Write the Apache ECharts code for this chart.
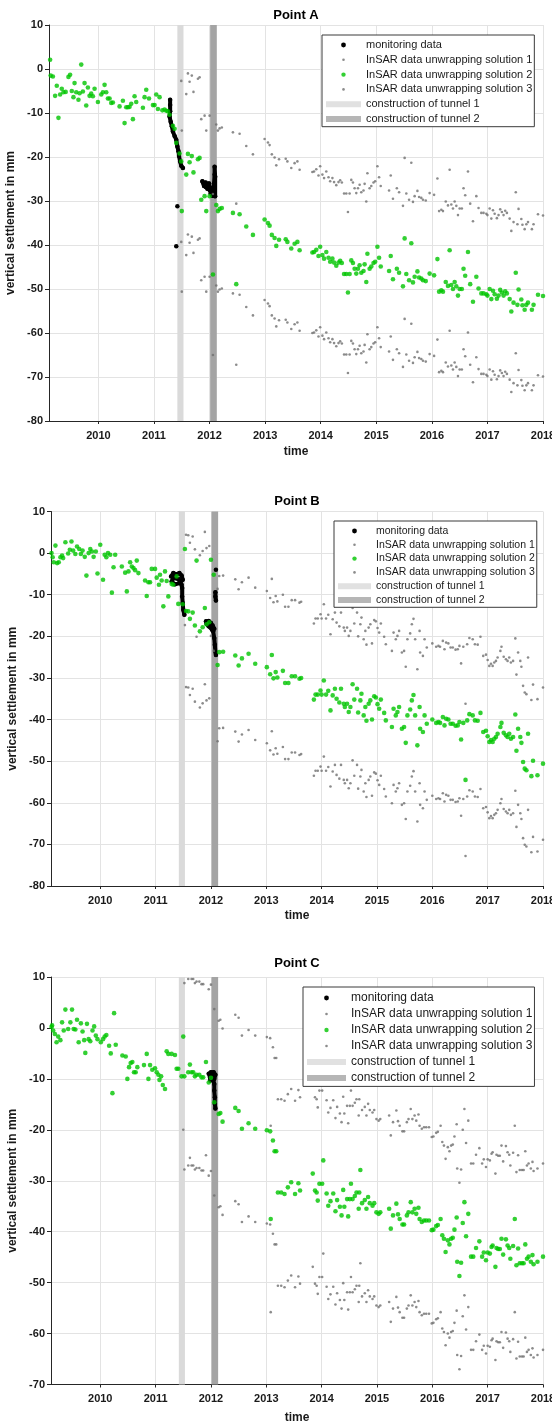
<!DOCTYPE html>
<html>
<head>
<meta charset="utf-8">
<title>Vertical settlement at points A, B and C</title>
<script src="https://cdn.jsdelivr.net/npm/echarts@6/dist/echarts.min.js"></script>
<style>
  html, body { margin: 0; padding: 0; background: #fff; }
  #chart { width: 552px; height: 1425px; }
</style>
</head>
<body>
<div id="chart"></div>
<script>
// ---------- shared axis values ----------
const X_MIN = 2009.11;
const X_MAX = 2018;
const YEAR_TICKS = [2010, 2011, 2012, 2013, 2014, 2015, 2016, 2017, 2018];
const TUNNEL_1 = [2011.42, 2011.53];   // construction period of tunnel 1 (decimal years)
const TUNNEL_2 = [2012.01, 2012.13];   // construction period of tunnel 2 (decimal years)

const SERIES_NAMES = {
  mon: 'monitoring data',
  s1: 'InSAR data unwrapping solution 1',
  s2: 'InSAR data unwrapping solution 2',
  s3: 'InSAR data unwrapping solution 3',
  t1: 'construction of tunnel 1',
  t2: 'construction of tunnel 2'
};

// ---------- Point A ----------
// acquisition dates (decimal years) and settlement of unwrapping solution 2 (mm)
const aDates = [2009.13,2009.14,2009.18,2009.22,2009.25,2009.28,2009.31,2009.34,2009.37,2009.41,2009.46,2009.49,2009.52,2009.55,2009.57,2009.60,2009.64,2009.66,2009.69,2009.72,2009.75,2009.78,2009.81,2009.84,2009.87,2009.90,2009.93,2009.99,2010.05,2010.08,2010.11,2010.14,2010.17,2010.20,2010.23,2010.26,2010.38,2010.44,2010.47,2010.50,2010.53,2010.56,2010.59,2010.62,2010.65,2010.68,2010.80,2010.83,2010.86,2010.91,2010.98,2011.01,2011.04,2011.07,2011.10,2011.15,2011.19,2011.22,2011.25,2011.28,2011.34,2011.37,2011.40,2011.46,
2011.49,2011.50,2011.58,2011.61,2011.64,2011.68,2011.71,2011.79,2011.82,2011.85,2011.91,2011.94,2012.00,2012.06,2012.12,2012.15,2012.18,2012.22,2012.42,2012.48,2012.54,2012.66,2012.78,2012.99,2013.05,2013.08,2013.12,2013.17,2013.20,2013.25,2013.37,2013.40,2013.47,2013.53,2013.58,2013.62,2013.85,2013.88,2013.92,2013.96,2013.99,2014.03,2014.06,2014.10,2014.14,2014.17,2014.21,2014.24,2014.28,2014.32,2014.35,2014.38,2014.42,2014.46,2014.49,2014.52,2014.55,2014.58,2014.61,2014.64,2014.67,2014.70,2014.73,2014.77,2014.79,2014.82,2014.84,2014.88,2014.91,2014.95,2014.98,2015.02,2015.05,2015.08,2015.23,2015.26,2015.30,2015.37,2015.41,2015.48,2015.51,2015.54,2015.59,2015.63,2015.66,2015.69,2015.74,2015.77,2015.81,2015.84,2015.89,2015.96,2016.04,2016.10,2016.13,2016.17,2016.20,2016.25,2016.29,2016.32,2016.35,2016.38,2016.41,2016.44,2016.47,2016.50,2016.54,2016.57,2016.60,2016.65,2016.69,2016.74,2016.80,2016.84,2016.89,2016.93,2016.98,2017.00,2017.04,2017.07,2017.10,2017.13,2017.17,2017.20,2017.23,2017.26,2017.29,2017.32,2017.35,2017.40,2017.43,2017.47,2017.51,2017.54,2017.56,2017.61,2017.63,2017.67,2017.70,2017.73,2017.80,2017.83,2017.91,2018.00];
const aSol2 = [2.1,-1.5,-1.7,-6.1,-3.8,-11.1,-5.8,-4.5,-5.3,-5.2,-1.8,-1.3,-5.0,-6.4,-3.2,-5.3,-7.0,-5.5,1.0,-5.1,-3.2,-8.3,-4.2,-6.1,-5.6,-6.2,-4.5,-7.5,-5.8,-5.3,-3.6,-5.3,-6.7,-6.7,-7.7,-7.6,-8.5,-7.2,-12.3,-8.7,-8.7,-8.6,-7.9,-11.4,-6.2,-7.5,-8.8,-6.4,-4.7,-6.7,-8.2,-8.2,-5.8,-9.1,-6.4,-9.4,-9.2,-9.5,-9.6,-10.4,-12.9,-13.6,-16.8,-19.2,
-21.0,-32.3,-24.0,-19.3,-21.2,-19.8,-23.5,-20.5,-20.2,-29.7,-28.9,-32.3,-28.9,-46.7,-30.9,-32.3,-31.8,-31.6,-32.7,-48.9,-33.0,-35.8,-37.7,-34.2,-35.0,-35.6,-37.7,-38.4,-40.2,-38.8,-38.7,-39.3,-40.8,-39.7,-39.3,-41.2,-41.7,-41.6,-41.1,-42.5,-40.4,-42.3,-43.1,-41.6,-42.9,-43.8,-43.1,-44.0,-44.7,-44.0,-43.6,-44.1,-46.6,-46.6,-50.8,-46.6,-43.5,-44.1,-45.4,-46.5,-45.4,-44.6,-46.3,-45.9,-44.4,-48.4,-42.0,-45.4,-44.9,-44.1,-43.8,-40.4,-42.9,-44.9,-45.9,-42.5,-47.8,-45.4,-46.3,-49.4,-38.5,-46.6,-48.0,-39.6,-48.5,-47.2,-46.0,-47.4,-47.6,-48.0,-48.2,-46.5,-46.9,-43.2,-50.6,-50.3,-50.6,-48.4,-49.3,-41.2,-49.1,-50.0,-48.4,-49.4,-51.5,-50.0,-50.0,-45.4,-47.0,-41.6,-48.9,-52.9,-47.2,-49.9,-51.0,-51.0,-51.2,-51.5,-50.0,-52.3,-50.4,-51.2,-52.2,-51.5,-50.2,-50.8,-51.5,-50.5,-51.0,-52.3,-55.1,-53.1,-46.3,-53.6,-50.1,-52.4,-53.7,-54.7,-53.6,-53.1,-54.7,-53.6,-51.3,-51.6];
// solutions 1 and 3 exist for the last acquisitions only (from mid 2011 on)
const aSol1 = [-2.7,-14.0,-5.7,-1.0,-2.9,-1.5,-5.2,-2.2,-1.9,-11.4,-10.6,-14.0,-10.6,-28.4,-12.6,-14.0,-13.5,-13.3,-14.4,-30.6,-14.7,-17.5,-19.4,-15.9,-16.7,-17.3,-19.4,-20.1,-21.9,-20.5,-20.4,-21.0,-22.5,-21.4,-21.0,-22.9,-23.4,-23.3,-22.8,-24.2,-22.1,-24.0,-24.8,-23.3,-24.6,-25.5,-24.8,-25.7,-26.4,-25.7,-25.3,-25.8,-28.3,-28.3,-32.5,-28.3,-25.2,-25.8,-27.1,-28.2,-27.1,-26.3,-28.0,-27.6,-26.1,-30.1,-23.7,-27.1,-26.6,-25.8,-25.5,-22.1,-24.6,-26.6,-27.6,-24.2,-29.5,-27.1,-28.0,-31.1,-20.2,-28.3,-29.7,-21.3,-30.2,-28.9,-27.7,-29.1,-29.3,-29.7,-29.9,-28.2,-28.6,-24.9,-32.3,-32.0,-32.3,-30.1,-31.0,-22.9,-30.8,-31.7,-30.1,-31.1,-33.2,-31.7,-31.7,-27.1,-28.7,-23.3,-30.6,-34.6,-28.9,-31.6,-32.7,-32.7,-32.9,-33.2,-31.7,-34.0,-32.1,-32.9,-33.9,-33.2,-31.9,-32.5,-33.2,-32.2,-32.7,-34.0,-36.8,-34.8,-28.0,-35.3,-31.8,-34.1,-35.4,-36.4,-35.3,-34.8,-36.4,-35.3,-33.0,-33.3];
const aSol3 = [-39.3,-50.6,-42.3,-37.6,-39.5,-38.1,-41.8,-38.8,-38.5,-48.0,-47.2,-50.6,-47.2,-65.0,-49.2,-50.6,-50.1,-49.9,-51.0,-67.2,-51.3,-54.1,-56.0,-52.5,-53.3,-53.9,-56.0,-56.7,-58.5,-57.1,-57.0,-57.6,-59.1,-58.0,-57.6,-59.5,-60.0,-59.9,-59.4,-60.8,-58.7,-60.6,-61.4,-59.9,-61.2,-62.1,-61.4,-62.3,-63.0,-62.3,-61.9,-62.4,-64.9,-64.9,-69.1,-64.9,-61.8,-62.4,-63.7,-64.8,-63.7,-62.9,-64.6,-64.2,-62.7,-66.7,-60.3,-63.7,-63.2,-62.4,-62.1,-58.7,-61.2,-63.2,-64.2,-60.8,-66.1,-63.7,-64.6,-67.7,-56.8,-64.9,-66.3,-57.9,-66.8,-65.5,-64.3,-65.7,-65.9,-66.3,-66.5,-64.8,-65.2,-61.5,-68.9,-68.6,-68.9,-66.7,-67.6,-59.5,-67.4,-68.3,-66.7,-67.7,-69.8,-68.3,-68.3,-63.7,-65.3,-59.9,-67.2,-71.2,-65.5,-68.2,-69.3,-69.3,-69.5,-69.8,-68.3,-70.6,-68.7,-69.5,-70.5,-69.8,-68.5,-69.1,-69.8,-68.8,-69.3,-70.6,-73.4,-71.4,-64.6,-71.9,-68.4,-70.7,-72.0,-73.0,-71.9,-71.4,-73.0,-71.9,-69.6,-69.9];
// levelling / monitoring readings [year, mm]; a null value separates the traces
const aMonitoring = [[2011.29,-7.0],[2011.29,-8.2],[2011.29,-9.6],[2011.28,-10.8],[2011.30,-12.0],[2011.32,-13.0],[2011.34,-14.2],[2011.37,-15.2],[2011.40,-16.1],[2011.42,-17.6],[2011.44,-18.7],[2011.45,-19.8],[2011.47,-21.0],[2011.49,-22.0],[2011.52,-22.5],[2011.52,null],
[2011.42,-31.2],[2011.42,null],[2011.40,-40.3],[2011.40,null],
[2011.87,-25.5],[2011.90,-26.6],[2011.93,-25.8],[2011.96,-27.2],[2011.99,-26.0],[2012.02,-28.3],[2012.05,-27.0],[2012.07,-28.8],[2012.08,-26.0],[2012.09,-24.0],[2012.09,-22.2],[2012.10,-24.5],[2012.10,-28.9],[2012.05,-28.8],[2012.00,-27.5],[2011.93,-26.8],[2011.88,-25.8]];

// ---------- Point B ----------
const bDates = [2009.12,2009.14,2009.16,2009.19,2009.22,2009.25,2009.28,2009.31,2009.33,2009.37,2009.42,2009.45,2009.48,2009.51,2009.55,2009.58,2009.62,2009.65,2009.68,2009.72,2009.75,2009.79,2009.82,2009.85,2009.88,2009.92,2009.95,2010.00,2010.05,2010.08,2010.11,2010.14,2010.18,2010.21,2010.24,2010.27,2010.39,2010.45,2010.48,2010.51,2010.54,2010.57,2010.60,2010.63,2010.66,2010.69,2010.81,2010.84,2010.87,2010.90,2010.93,2010.99,2011.02,2011.06,2011.08,2011.11,2011.14,2011.17,2011.20,2011.23,2011.29,2011.32,2011.38,2011.41,2011.49,
2011.53,2011.55,2011.59,2011.62,2011.67,2011.71,2011.74,2011.80,2011.85,2011.89,2011.92,2011.97,2012.00,2012.05,2012.12,2012.15,2012.22,2012.44,2012.50,2012.56,2012.68,2012.80,2013.01,2013.07,2013.10,2013.13,2013.17,2013.20,2013.30,2013.34,2013.40,2013.46,2013.52,2013.60,2013.63,
2013.86,2013.89,2013.93,2013.98,2014.00,2014.04,2014.08,2014.12,2014.16,2014.20,2014.24,2014.27,2014.32,2014.35,2014.40,2014.42,2014.46,2014.49,2014.52,2014.56,2014.59,2014.64,2014.66,2014.70,2014.72,2014.76,2014.79,2014.81,2014.85,2014.88,2014.91,2014.95,2014.98,2015.01,2015.04,2015.07,2015.13,2015.16,2015.27,2015.30,2015.34,2015.37,2015.40,2015.45,2015.49,2015.52,2015.55,2015.60,2015.63,2015.66,2015.69,2015.73,2015.77,2015.78,2015.83,2015.86,2015.90,2016.00,2016.07,2016.11,2016.14,2016.19,2016.22,2016.25,2016.29,2016.33,2016.37,2016.42,2016.46,2016.49,2016.52,2016.56,2016.60,2016.63,2016.67,2016.73,2016.77,2016.82,2016.87,2016.92,2016.97,2017.00,2017.03,2017.06,2017.09,2017.12,2017.15,2017.18,2017.23,2017.25,2017.29,2017.33,2017.36,2017.39,2017.42,2017.46,2017.50,2017.52,2017.55,2017.59,2017.61,2017.64,2017.67,2017.70,2017.73,2017.79,2017.82,2017.90,2018.00];
const bSol2 = [0.0,-1.0,-2.2,1.8,-2.4,-2.2,-1.0,-0.6,-1.2,2.6,-0.1,0.8,2.8,0.6,-0.2,1.6,1.0,-0.2,0.6,-0.9,-5.4,0.0,1.0,0.4,-0.9,0.4,-4.9,2.0,-6.4,-0.4,-1.0,0.0,-0.4,-9.5,-3.4,-0.4,-3.2,-4.7,-9.2,-4.4,-2.2,-3.2,-3.6,-4.1,-1.8,-4.8,-6.6,-10.3,-7.0,-7.0,-3.8,-3.8,-5.9,-7.6,-5.2,-6.6,-12.8,-4.4,-6.7,-10.4,-7.4,-7.6,-5.6,-12.2,-12.3,
1.0,-13.9,-14.0,-15.8,-14.3,-17.4,-1.8,-18.8,-17.8,-13.2,-17.1,-16.6,-1.6,-5.2,-26.9,-23.8,-23.7,-24.6,-27.0,-25.3,-24.2,-26.6,-27.4,-29.1,-24.5,-30.1,-28.6,-29.9,-28.3,-31.2,-31.2,-29.6,-29.6,-30.2,-30.0,
-35.2,-34.0,-34.0,-33.0,-34.0,-30.6,-34.0,-33.1,-37.8,-34.2,-32.6,-35.0,-35.9,-32.6,-36.2,-37.0,-36.2,-38.2,-37.0,-31.5,-35.2,-32.6,-38.3,-35.4,-33.8,-39.0,-37.0,-40.3,-36.2,-35.4,-40.0,-34.4,-34.7,-36.3,-37.4,-35.2,-38.4,-40.2,-41.8,-37.4,-39.0,-38.2,-37.0,-42.2,-41.8,-45.6,-39.0,-37.6,-35.4,-34.1,-39.0,-46.2,-37.0,-42.2,-43.0,-39.0,-41.0,-40.0,-40.8,-40.6,-40.8,-39.4,-41.4,-39.8,-40.0,-41.0,-41.0,-41.5,-41.4,-40.6,-44.8,-40.8,-54.5,-40.2,-38.7,-39.0,-40.2,-40.3,-38.4,-43.0,-42.7,-44.0,-45.4,-44.9,-45.4,-44.6,-44.2,-43.4,-41.8,-40.8,-43.2,-43.8,-44.2,-43.4,-44.6,-44.2,-38.8,-47.5,-42.2,-44.2,-45.6,-50.2,-51.8,-52.2,-43.4,-53.6,-49.9,-53.4,-50.6];
const bSol1 = [19.3,4.4,4.3,2.5,4.0,0.9,16.5,-0.5,0.5,5.1,1.2,1.7,16.7,13.1,-8.6,-5.5,-5.4,-6.3,-8.7,-7.0,-5.9,-8.3,-9.1,-10.8,-6.2,-11.8,-10.3,-11.6,-10.0,-12.9,-12.9,-11.3,-11.3,-11.9,-11.7,
-16.9,-15.7,-15.7,-14.7,-15.7,-12.3,-15.7,-14.8,-19.5,-15.9,-14.3,-16.7,-17.6,-14.3,-17.9,-18.7,-17.9,-19.9,-18.7,-13.2,-16.9,-14.3,-20.0,-17.1,-15.5,-20.7,-18.7,-22.0,-17.9,-17.1,-21.7,-16.1,-16.4,-18.0,-19.1,-16.9,-20.1,-21.9,-23.5,-19.1,-20.7,-19.9,-18.7,-23.9,-23.5,-27.3,-20.7,-19.3,-17.1,-15.8,-20.7,-27.9,-18.7,-23.9,-24.7,-20.7,-22.7,-21.7,-22.5,-22.3,-22.5,-21.1,-23.1,-21.5,-21.7,-22.7,-22.7,-23.2,-23.1,-22.3,-26.5,-22.5,-36.2,-21.9,-20.4,-20.7,-21.9,-22.0,-20.1,-24.7,-24.4,-25.7,-27.1,-26.6,-27.1,-26.3,-25.9,-25.1,-23.5,-22.5,-24.9,-25.5,-25.9,-25.1,-26.3,-25.9,-20.5,-29.2,-23.9,-25.9,-27.3,-31.9,-33.5,-33.9,-25.1,-35.3,-31.6,-35.1,-32.3];
const bSol3 = [-17.3,-32.2,-32.3,-34.1,-32.6,-35.7,-20.1,-37.1,-36.1,-31.5,-35.4,-34.9,-19.9,-23.5,-45.2,-42.1,-42.0,-42.9,-45.3,-43.6,-42.5,-44.9,-45.7,-47.4,-42.8,-48.4,-46.9,-48.2,-46.6,-49.5,-49.5,-47.9,-47.9,-48.5,-48.3,
-53.5,-52.3,-52.3,-51.3,-52.3,-48.9,-52.3,-51.4,-56.1,-52.5,-50.9,-53.3,-54.2,-50.9,-54.5,-55.3,-54.5,-56.5,-55.3,-49.8,-53.5,-50.9,-56.6,-53.7,-52.1,-57.3,-55.3,-58.6,-54.5,-53.7,-58.3,-52.7,-53.0,-54.6,-55.7,-53.5,-56.7,-58.5,-60.1,-55.7,-57.3,-56.5,-55.3,-60.5,-60.1,-63.9,-57.3,-55.9,-53.7,-52.4,-57.3,-64.5,-55.3,-60.5,-61.3,-57.3,-59.3,-58.3,-59.1,-58.9,-59.1,-57.7,-59.7,-58.1,-58.3,-59.3,-59.3,-59.8,-59.7,-58.9,-63.1,-59.1,-72.8,-58.5,-57.0,-57.3,-58.5,-58.6,-56.7,-61.3,-61.0,-62.3,-63.7,-63.2,-63.7,-62.9,-62.5,-61.7,-60.1,-59.1,-61.5,-62.1,-62.5,-61.7,-62.9,-62.5,-57.1,-65.8,-60.5,-62.5,-63.9,-68.5,-70.1,-70.5,-61.7,-71.9,-68.2,-71.7,-68.9];
const bMonitoring = [[2011.28,-5.6],[2011.32,-4.8],[2011.38,-5.1],[2011.43,-4.8],[2011.47,-5.4],[2011.49,-6.4],[2011.44,-7.2],[2011.35,-7.5],[2011.29,-6.8],[2011.32,-6.0],[2011.41,-6.2],[2011.47,-7.6],[2011.48,-8.4],[2011.48,-10.4],[2011.49,-12.0],[2011.50,-13.6],[2011.52,-14.8],[2011.52,null],
[2011.91,-16.4],[2011.96,-16.3],[2012.00,-16.8],[2012.03,-17.4],[2012.06,-18.2],[2012.02,-18.4],[2011.96,-17.6],[2011.92,-17.0],[2011.97,-17.0],[2012.04,-18.8],[2012.06,-20.4],[2012.07,-22.0],[2012.08,-23.7],[2012.09,-24.5],[2012.09,null],
[2012.09,-4.0],[2012.09,null],[2012.08,-9.4],[2012.08,-10.4],[2012.09,-11.4]];

// ---------- Point C ----------
const cDates = [2009.12,2009.13,2009.15,2009.18,2009.21,2009.24,2009.28,2009.31,2009.34,2009.37,2009.42,2009.46,2009.49,2009.52,2009.55,2009.58,2009.61,2009.65,2009.68,2009.71,2009.73,2009.76,2009.79,2009.82,2009.86,2009.89,2009.92,2009.95,2010.01,2010.05,2010.08,2010.11,2010.16,2010.19,2010.22,2010.25,2010.28,2010.40,2010.46,2010.49,2010.52,2010.55,2010.58,2010.61,2010.64,2010.67,2010.79,2010.84,2010.87,2010.90,2010.94,2010.99,2011.02,2011.05,2011.07,2011.10,2011.13,2011.17,2011.20,2011.23,2011.29,2011.35,2011.38,2011.41,2011.47,
2011.50,2011.52,2011.59,2011.62,2011.65,2011.68,2011.71,2011.74,2011.79,2011.83,2011.86,2011.91,2011.96,2012.00,2012.06,2012.14,2012.17,2012.21,2012.44,2012.50,2012.56,2012.68,2012.80,2013.01,2013.07,2013.08,2013.12,2013.15,2013.18,2013.21,2013.27,2013.33,2013.39,2013.45,2013.52,2013.58,2013.61,2013.84,2013.88,2013.91,2013.93,2013.96,2014.01,2014.03,2014.09,2014.12,2014.16,2014.21,2014.25,2014.28,2014.33,2014.36,2014.39,2014.41,2014.46,2014.48,2014.51,2014.53,2014.56,2014.60,2014.63,2014.67,2014.68,2014.70,2014.73,2014.78,2014.81,2014.84,2014.87,2014.92,2014.95,2014.99,2015.03,2015.06,2015.22,2015.25,2015.29,2015.35,2015.38,2015.41,2015.46,2015.49,2015.54,2015.57,2015.61,2015.64,2015.68,2015.71,2015.75,2015.77,2015.81,2015.85,2015.89,2015.94,2015.99,2016.02,2016.07,2016.10,2016.15,2016.18,2016.21,2016.24,2016.28,2016.31,2016.34,2016.37,2016.40,2016.44,2016.45,2016.49,2016.52,2016.55,2016.58,2016.61,2016.65,2016.70,2016.74,2016.79,2016.85,2016.90,2016.93,2016.97,2017.00,2017.04,2017.07,2017.09,2017.14,2017.16,2017.19,2017.22,2017.25,2017.28,2017.33,2017.36,2017.39,2017.41,2017.46,2017.49,2017.52,2017.55,2017.58,2017.62,2017.65,2017.68,2017.71,2017.74,2017.78,2017.81,2017.83,2017.90,2018.00];
const cSol2 = [0.2,0.5,-0.5,-1.2,-2.8,-1.7,-2.4,1.1,-0.5,3.6,-0.2,1.1,3.6,-0.2,-0.3,1.6,-2.8,0.9,-0.7,-2.4,-4.9,0.8,-2.2,-2.6,-0.5,0.3,-1.5,-2.2,-2.8,-2.2,-1.7,-1.4,-3.5,-5.0,-12.8,2.9,-3.3,-5.4,-5.6,-10.0,-7.7,-6.9,-6.7,-8.7,-8.7,-7.7,-7.3,-5.1,-10.0,-7.3,-8.2,-7.9,-8.7,-9.2,-10.2,-9.5,-11.2,-12.0,-4.6,-5.1,-5.1,-5.3,-8.0,-8.0,-9.5,
-1.7,-9.5,-8.7,-7.2,-8.7,-8.7,-9.5,-9.2,-9.2,-9.7,-9.7,-6.7,-10.7,-9.8,-14.6,-16.9,-16.7,-18.4,-15.7,-16.3,-19.8,-18.7,-19.8,-20.1,-20.3,-37.5,-22.1,-24.2,-24.2,-32.3,-32.3,-32.6,-31.3,-30.3,-32.6,-30.5,-31.9,-28.6,-31.9,-32.3,-33.9,-30.6,-30.6,-26.0,-32.5,-34.9,-34.0,-32.5,-36.0,-33.8,-35.1,-36.8,-31.8,-35.1,-33.6,-37.0,-33.6,-30.6,-33.6,-33.0,-32.3,-35.5,-32.3,-27.9,-34.4,-33.8,-35.5,-33.2,-34.4,-34.9,-34.4,-36.2,-36.5,-36.2,-35.5,-39.4,-36.8,-34.5,-36.6,-37.5,-38.6,-38.6,-36.8,-36.2,-34.2,-36.2,-35.5,-36.5,-35.3,-37.5,-38.1,-37.8,-37.8,-37.8,-39.7,-39.6,-38.9,-38.7,-37.5,-40.7,-41.4,-44.0,-41.7,-42.5,-41.4,-41.2,-39.6,-37.2,-45.9,-48.7,-46.1,-38.3,-34.2,-40.9,-36.5,-44.9,-44.9,-43.2,-41.9,-44.9,-44.1,-45.6,-44.1,-44.3,-43.0,-42.7,-46.9,-43.2,-43.4,-43.4,-41.4,-44.5,-41.5,-42.7,-43.2,-45.3,-42.8,-37.5,-46.6,-43.3,-46.2,-46.2,-46.2,-42.5,-45.3,-44.9,-45.9,-44.6,-46.4,-45.9,-44.9];
const cSol1 = [16.6,8.8,9.6,11.1,9.6,9.6,8.8,9.1,9.1,8.6,8.6,11.6,7.6,8.5,3.7,1.4,1.6,-0.1,2.6,2.0,-1.5,-0.4,-1.5,-1.8,-2.0,-19.2,-3.8,-5.9,-5.9,-14.0,-14.0,-14.3,-13.0,-12.0,-14.3,-12.2,-13.6,-10.3,-13.6,-14.0,-15.6,-12.3,-12.3,-7.7,-14.2,-16.6,-15.7,-14.2,-17.7,-15.5,-16.8,-18.5,-13.5,-16.8,-15.3,-18.7,-15.3,-12.3,-15.3,-14.7,-14.0,-17.2,-14.0,-9.6,-16.1,-15.5,-17.2,-14.9,-16.1,-16.6,-16.1,-17.9,-18.2,-17.9,-17.2,-21.1,-18.5,-16.2,-18.3,-19.2,-20.3,-20.3,-18.5,-17.9,-15.9,-17.9,-17.2,-18.2,-17.0,-19.2,-19.8,-19.5,-19.5,-19.5,-21.4,-21.3,-20.6,-20.4,-19.2,-22.4,-23.1,-25.7,-23.4,-24.2,-23.1,-22.9,-21.3,-18.9,-27.6,-30.4,-27.8,-20.0,-15.9,-22.6,-18.2,-26.6,-26.6,-24.9,-23.6,-26.6,-25.8,-27.3,-25.8,-26.0,-24.7,-24.4,-28.6,-24.9,-25.1,-25.1,-23.1,-26.2,-23.2,-24.4,-24.9,-27.0,-24.5,-19.2,-28.3,-25.0,-27.9,-27.9,-27.9,-24.2,-27.0,-26.6,-27.6,-26.3,-28.1,-27.6,-26.6];
const cSol3 = [-20.0,-27.8,-27.0,-25.5,-27.0,-27.0,-27.8,-27.5,-27.5,-28.0,-28.0,-25.0,-29.0,-28.1,-32.9,-35.2,-35.0,-36.7,-34.0,-34.6,-38.1,-37.0,-38.1,-38.4,-38.6,-55.8,-40.4,-42.5,-42.5,-50.6,-50.6,-50.9,-49.6,-48.6,-50.9,-48.8,-50.2,-46.9,-50.2,-50.6,-52.2,-48.9,-48.9,-44.3,-50.8,-53.2,-52.3,-50.8,-54.3,-52.1,-53.4,-55.1,-50.1,-53.4,-51.9,-55.3,-51.9,-48.9,-51.9,-51.3,-50.6,-53.8,-50.6,-46.2,-52.7,-52.1,-53.8,-51.5,-52.7,-53.2,-52.7,-54.5,-54.8,-54.5,-53.8,-57.7,-55.1,-52.8,-54.9,-55.8,-56.9,-56.9,-55.1,-54.5,-52.5,-54.5,-53.8,-54.8,-53.6,-55.8,-56.4,-56.1,-56.1,-56.1,-58.0,-57.9,-57.2,-57.0,-55.8,-59.0,-59.7,-62.3,-60.0,-60.8,-59.7,-59.5,-57.9,-55.5,-64.2,-67.0,-64.4,-56.6,-52.5,-59.2,-54.8,-63.2,-63.2,-61.5,-60.2,-63.2,-62.4,-63.9,-62.4,-62.6,-61.3,-61.0,-65.2,-61.5,-61.7,-61.7,-59.7,-62.8,-59.8,-61.0,-61.5,-63.6,-61.1,-55.8,-64.9,-61.6,-64.5,-64.5,-64.5,-60.8,-63.6,-63.2,-64.2,-62.9,-64.7,-64.2,-63.2];
const cMonitoring = [[2011.96,-9.0],[2012.00,-8.7],[2012.05,-8.7],[2012.08,-9.2],[2012.06,-10.0],[2011.99,-10.3],[2011.98,-9.6],[2012.03,-9.5],[2012.06,-11.0],[2012.06,-12.3],[2012.07,-13.6],[2012.07,-14.9],[2012.08,-15.8]];

// ---------- styling ----------
const FONT = '"Liberation Sans", Arial, Helvetica, sans-serif';
const INK = '#1a1a1a';
const GREEN = '#00c400';
const GREY_DOT = '#6f6f6f';
const TUNNEL_1_COLOR = '#dadada';
const TUNNEL_2_COLOR = '#a4a4a4';

const PANELS = [
  { title: 'Point A', dates: aDates, sol1: aSol1, sol2: aSol2, sol3: aSol3, monitoring: aMonitoring, yMin: -80,
    grid: { left: 49, top: 25, width: 494, height: 396 }, titleTop: 9, yNameGap: 31, xNameGap: 25,
    legend: { left: 322, top: 35, itemWidth: 35, fontSize: 11, lineHeight: 14.8, padding: [2.6, 2, 0.3, 4] } },
  { title: 'Point B', dates: bDates, sol1: bSol1, sol2: bSol2, sol3: bSol3, monitoring: bMonitoring, yMin: -80,
    grid: { left: 51, top: 511.5, width: 492, height: 374.5 }, titleTop: 495, yNameGap: 31, xNameGap: 24,
    legend: { left: 334, top: 521, itemWidth: 33, fontSize: 10.5, lineHeight: 13.8, padding: [3.1, 2, 0.4, 4] } },
  { title: 'Point C', dates: cDates, sol1: cSol1, sol2: cSol2, sol3: cSol3, monitoring: cMonitoring, yMin: -70,
    grid: { left: 51, top: 977, width: 492, height: 407.5 }, titleTop: 957, yNameGap: 31, xNameGap: 27,
    legend: { left: 303, top: 987, itemWidth: 39, fontSize: 12, lineHeight: 16, padding: [3, 2, 0.4, 4] } }
];

// pair each value with its acquisition date; shorter arrays belong to the latest dates
function pairWithDates(dates, values) {
  const offset = dates.length - values.length;
  return values.map((v, i) => [dates[offset + i], v]);
}

// small round legend marker centred in an icon box of the legend's size
function dotIcon(w, h, r) {
  const cx = w / 2 - r, cy = h / 2;
  return 'path://M0 0M' + w + ' ' + h + 'M' + cx + ' ' + cy +
    'a' + r + ' ' + r + ' 0 1 0 ' + (2 * r) + ' 0a' + r + ' ' + r + ' 0 1 0 ' + (-2 * r) + ' 0z';
}

const option = {
  animation: false,
  backgroundColor: '#ffffff',
  title: [], legend: [], grid: [], xAxis: [], yAxis: [], series: []
};

PANELS.forEach((p, i) => {
  const centreX = p.grid.left + p.grid.width / 2;
  option.title.push({
    text: p.title, left: centreX, top: p.titleTop, textAlign: 'center', padding: 0,
    textStyle: { fontFamily: FONT, fontSize: 13, fontWeight: 'bold', color: '#000' }
  });

  option.grid.push(Object.assign({ containLabel: false, outerBoundsMode: 'none' }, p.grid));

  option.xAxis.push({
    type: 'value', gridIndex: i, min: X_MIN, max: X_MAX,
    name: 'time', nameLocation: 'middle', nameGap: p.xNameGap,
    nameTextStyle: { fontFamily: FONT, fontSize: 12, fontWeight: 'bold', color: INK },
    axisLine: { show: true, onZero: false, lineStyle: { color: '#262626', width: 1 } },
    axisTick: { show: true, customValues: YEAR_TICKS, length: 3, lineStyle: { color: '#262626' } },
    axisLabel: { customValues: YEAR_TICKS, formatter: v => String(Math.round(v)), fontFamily: FONT,
      fontSize: 11, fontWeight: 'bold', color: INK, margin: 9, showMaxLabel: true, hideOverlap: false },
    splitLine: { show: true, lineStyle: { color: '#e3e3e3', width: 1 } }
  });

  option.yAxis.push({
    type: 'value', gridIndex: i, min: p.yMin, max: 10, interval: 10,
    name: 'vertical settlement in mm', nameLocation: 'middle', nameGap: p.yNameGap, nameRotate: 90,
    nameTextStyle: { fontFamily: FONT, fontSize: 12, fontWeight: 'bold', color: INK },
    axisLine: { show: true, onZero: false, lineStyle: { color: '#262626', width: 1 } },
    axisTick: { show: true, length: 4, lineStyle: { color: '#262626' } },
    axisLabel: { fontFamily: FONT, fontSize: 11, fontWeight: 'bold', color: INK, margin: 6 },
    splitLine: { show: true, lineStyle: { color: '#e3e3e3', width: 1 } }
  });

  const L = p.legend, iw = L.itemWidth, ih = 6;
  option.legend.push({
    orient: 'vertical', left: L.left, top: L.top, itemWidth: iw, itemHeight: ih, itemGap: 0,
    padding: L.padding, borderColor: '#3a3a3a', borderWidth: 1, backgroundColor: '#ffffff',
    selectedMode: false, z: 10,
    textStyle: { fontFamily: FONT, fontSize: L.fontSize, lineHeight: L.lineHeight, color: INK },
    data: [
      { name: SERIES_NAMES.mon, icon: dotIcon(iw, ih, 2.4), itemStyle: { color: '#000' } },
      { name: SERIES_NAMES.s1, icon: dotIcon(iw, ih, 1.3), itemStyle: { color: GREY_DOT } },
      { name: SERIES_NAMES.s2, icon: dotIcon(iw, ih, 2.2), itemStyle: { color: GREEN } },
      { name: SERIES_NAMES.s3, icon: dotIcon(iw, ih, 1.3), itemStyle: { color: GREY_DOT } },
      { name: SERIES_NAMES.t1, icon: 'rect', itemStyle: { color: TUNNEL_1_COLOR } },
      { name: SERIES_NAMES.t2, icon: 'rect', itemStyle: { color: TUNNEL_2_COLOR } }
    ]
  });

  const axes = { xAxisIndex: i, yAxisIndex: i };
  const band = (name, span, color) => Object.assign({
    name, type: 'scatter', data: [], z: 1, itemStyle: { color },
    markArea: { silent: true, itemStyle: { color, opacity: 1 },
      data: [[{ xAxis: span[0] }, { xAxis: span[1] }]] }
  }, axes);

  option.series.push(
    band(SERIES_NAMES.t1, TUNNEL_1, TUNNEL_1_COLOR),
    band(SERIES_NAMES.t2, TUNNEL_2, TUNNEL_2_COLOR),
    Object.assign({
      name: SERIES_NAMES.mon, type: 'line', data: p.monitoring, connectNulls: false, clip: true,
      symbol: 'circle', symbolSize: 4.5, showSymbol: true, z: 3,
      itemStyle: { color: '#000' }, lineStyle: { color: '#000', width: 4, cap: 'round', join: 'round' }
    }, axes),
    Object.assign({
      name: SERIES_NAMES.s1, type: 'scatter', data: pairWithDates(p.dates, p.sol1), clip: true,
      symbol: 'circle', symbolSize: 2.6, z: 4, itemStyle: { color: GREY_DOT }
    }, axes),
    Object.assign({
      name: SERIES_NAMES.s2, type: 'scatter', data: pairWithDates(p.dates, p.sol2), clip: true,
      symbol: 'circle', symbolSize: 4.6, z: 4, itemStyle: { color: GREEN }
    }, axes),
    Object.assign({
      name: SERIES_NAMES.s3, type: 'scatter', data: pairWithDates(p.dates, p.sol3), clip: true,
      symbol: 'circle', symbolSize: 2.6, z: 4, itemStyle: { color: GREY_DOT }
    }, axes)
  );
});

const chart = echarts.init(document.getElementById('chart'), null, { renderer: 'canvas' });
chart.setOption(option);
</script>
</body>
</html>
